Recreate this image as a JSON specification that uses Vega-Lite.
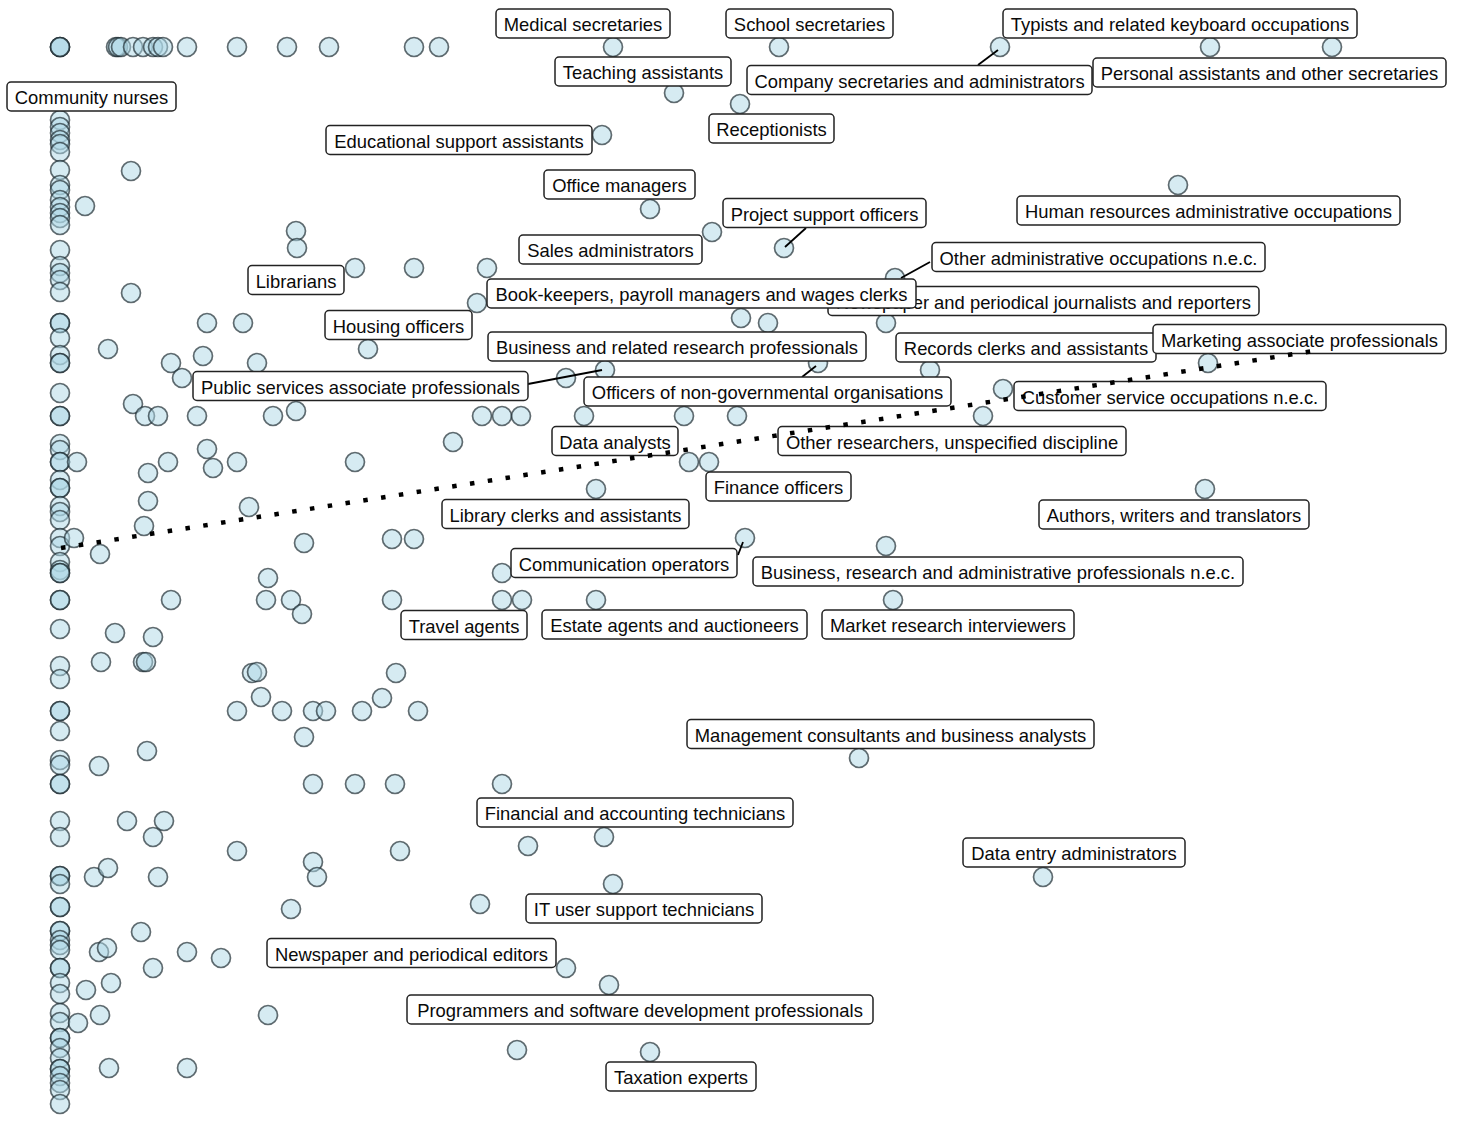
{
  "$schema": "https://vega.github.io/schema/vega-lite/v6.json",
  "width": 1457,
  "height": 1128,
  "autosize": {"type": "none"},
  "padding": 0,
  "background": "white",
  "config": {"view": {"stroke": null}, "axis": {"disable": true}},
  "datasets": {
    "points": [
      {"x":60,"y":47},{"x":60,"y":47},{"x":60,"y":47},
      {"x":116,"y":47},{"x":118,"y":47},{"x":121,"y":47},{"x":133,"y":47},{"x":143,"y":47},{"x":153,"y":47},{"x":158,"y":47},{"x":163,"y":47},
      {"x":187,"y":47},{"x":237,"y":47},{"x":287,"y":47},{"x":329,"y":47},{"x":414,"y":47},{"x":439,"y":47},{"x":613,"y":47},{"x":779,"y":47},{"x":1000,"y":47},{"x":1210,"y":47},{"x":1332,"y":47},
      {"x":674,"y":93},{"x":740,"y":104},{"x":602,"y":135},{"x":131,"y":171},{"x":85,"y":206},{"x":650,"y":209},{"x":712,"y":232},{"x":784,"y":248},{"x":296,"y":231},{"x":297,"y":248},{"x":355,"y":268},{"x":414,"y":268},{"x":487,"y":268},{"x":895,"y":278},{"x":131,"y":293},{"x":477,"y":303},{"x":741,"y":318},{"x":768,"y":323},{"x":886,"y":323},{"x":207,"y":323},{"x":243,"y":323},{"x":108,"y":349},{"x":368,"y":349},{"x":171,"y":363},{"x":203,"y":356},{"x":257,"y":363},{"x":182,"y":378},{"x":605,"y":370},{"x":566,"y":378},{"x":818,"y":363},{"x":930,"y":370},{"x":1178,"y":185},{"x":1208,"y":363},{"x":1003,"y":389},{"x":468,"y":390},
      {"x":60,"y":120},{"x":60,"y":127},{"x":60,"y":133},{"x":60,"y":140},{"x":60,"y":144},{"x":60,"y":152},{"x":60,"y":170},{"x":60,"y":185},{"x":60,"y":190},{"x":60,"y":200},{"x":60,"y":207},{"x":60,"y":213},{"x":60,"y":218},{"x":60,"y":225},{"x":60,"y":250},{"x":60,"y":266},{"x":60,"y":273},{"x":60,"y":280},{"x":60,"y":292},{"x":60,"y":323},{"x":60,"y":323},{"x":60,"y":338},{"x":60,"y":355},{"x":60,"y":363},{"x":60,"y":363},{"x":60,"y":393},{"x":60,"y":416},{"x":60,"y":416},{"x":60,"y":444},{"x":60,"y":450},{"x":60,"y":462},{"x":60,"y":462},{"x":60,"y":480},{"x":60,"y":488},{"x":60,"y":488},{"x":60,"y":506},{"x":60,"y":512},{"x":60,"y":520},{"x":60,"y":538},{"x":60,"y":546},{"x":60,"y":562},{"x":60,"y":570},{"x":60,"y":573},{"x":60,"y":573},{"x":60,"y":600},{"x":60,"y":600},{"x":60,"y":629},{"x":60,"y":666},{"x":60,"y":679},{"x":60,"y":711},{"x":60,"y":711},{"x":60,"y":731},{"x":60,"y":760},{"x":60,"y":765},{"x":60,"y":784},{"x":60,"y":784},{"x":60,"y":821},{"x":60,"y":837},{"x":60,"y":876},{"x":60,"y":876},{"x":60,"y":884},{"x":60,"y":907},{"x":60,"y":907},{"x":60,"y":931},{"x":60,"y":931},{"x":60,"y":940},{"x":60,"y":945},{"x":60,"y":950},{"x":60,"y":968},{"x":60,"y":968},{"x":60,"y":983},{"x":60,"y":994},{"x":60,"y":1013},{"x":60,"y":1022},{"x":60,"y":1038},{"x":60,"y":1038},{"x":60,"y":1048},{"x":60,"y":1058},{"x":60,"y":1069},{"x":60,"y":1069},{"x":60,"y":1076},{"x":60,"y":1083},{"x":60,"y":1090},{"x":60,"y":1104},
      {"x":133,"y":404},{"x":145,"y":416},{"x":158,"y":416},{"x":197,"y":416},{"x":273,"y":416},{"x":296,"y":411},{"x":482,"y":416},{"x":502,"y":416},{"x":521,"y":416},{"x":584,"y":416},{"x":684,"y":416},{"x":737,"y":416},{"x":983,"y":416},
      {"x":453,"y":442},{"x":77,"y":462},{"x":148,"y":473},{"x":168,"y":462},{"x":207,"y":449},{"x":213,"y":468},{"x":237,"y":462},{"x":355,"y":462},
      {"x":148,"y":501},{"x":144,"y":526},{"x":249,"y":507},{"x":74,"y":538},{"x":100,"y":554},{"x":304,"y":543},{"x":392,"y":539},{"x":414,"y":539},
      {"x":268,"y":578},{"x":502,"y":573},{"x":171,"y":600},{"x":266,"y":600},{"x":291,"y":600},{"x":302,"y":614},{"x":392,"y":600},{"x":502,"y":600},{"x":522,"y":600},{"x":596,"y":600},{"x":893,"y":600},
      {"x":115,"y":633},{"x":153,"y":637},{"x":101,"y":662},{"x":143,"y":662},{"x":146,"y":662},{"x":252,"y":673},{"x":257,"y":672},{"x":396,"y":673},{"x":261,"y":697},{"x":382,"y":698},
      {"x":237,"y":711},{"x":282,"y":711},{"x":313,"y":711},{"x":326,"y":711},{"x":362,"y":711},{"x":418,"y":711},{"x":304,"y":737},{"x":147,"y":751},{"x":99,"y":766},
      {"x":313,"y":784},{"x":355,"y":784},{"x":395,"y":784},{"x":502,"y":784},{"x":127,"y":821},{"x":164,"y":821},{"x":153,"y":837},{"x":237,"y":851},{"x":313,"y":862},{"x":317,"y":877},{"x":400,"y":851},
      {"x":94,"y":877},{"x":108,"y":868},{"x":158,"y":877},{"x":291,"y":909},{"x":480,"y":904},{"x":141,"y":932},{"x":99,"y":952},{"x":107,"y":948},{"x":187,"y":952},{"x":221,"y":958},{"x":153,"y":968},
      {"x":86,"y":990},{"x":111,"y":983},{"x":78,"y":1023},{"x":100,"y":1015},{"x":268,"y":1015},{"x":109,"y":1068},{"x":187,"y":1068},
      {"x":689,"y":462},{"x":709,"y":462},{"x":596,"y":489},{"x":745,"y":538},{"x":886,"y":546},{"x":1205,"y":489},{"x":859,"y":758},{"x":528,"y":846},{"x":604,"y":837},{"x":613,"y":884},{"x":566,"y":968},{"x":609,"y":985},{"x":517,"y":1050},{"x":650,"y":1052},{"x":1043,"y":877}
    ],
    "labels": [
      {"name":"Medical secretaries","x1":496,"x2":670,"yc":23.5,"g":1},
      {"name":"School secretaries","x1":726,"x2":893,"yc":23.5,"g":1},
      {"name":"Typists and related keyboard occupations","x1":1003,"x2":1357,"yc":23.5,"g":1},
      {"name":"Teaching assistants","x1":555,"x2":731,"yc":71.5,"g":1},
      {"name":"Company secretaries and administrators","x1":747,"x2":1092,"yc":80,"g":1},
      {"name":"Personal assistants and other secretaries","x1":1093,"x2":1446,"yc":72.5,"g":1},
      {"name":"Community nurses","x1":7,"x2":176,"yc":96.5,"g":1},
      {"name":"Receptionists","x1":709,"x2":834,"yc":128.5,"g":1},
      {"name":"Educational support assistants","x1":326,"x2":592,"yc":140,"g":1},
      {"name":"Office managers","x1":544,"x2":695,"yc":184.5,"g":1},
      {"name":"Project support officers","x1":723,"x2":926,"yc":213,"g":1},
      {"name":"Human resources administrative occupations","x1":1017,"x2":1400,"yc":210.5,"g":1},
      {"name":"Sales administrators","x1":519,"x2":702,"yc":249.5,"g":1},
      {"name":"Librarians","x1":248,"x2":344,"yc":280,"g":1},
      {"name":"Other administrative occupations n.e.c.","x1":932,"x2":1265,"yc":257,"g":1},
      {"name":"Newspaper and periodical journalists and reporters","x1":828,"x2":1259,"yc":301,"g":1},
      {"name":"Book-keepers, payroll managers and wages clerks","x1":487,"x2":916,"yc":293.5,"g":2},
      {"name":"Housing officers","x1":325,"x2":472,"yc":325,"g":1},
      {"name":"Business and related research professionals","x1":488,"x2":866,"yc":346.5,"g":1},
      {"name":"Records clerks and assistants","x1":896,"x2":1156,"yc":347.5,"g":1},
      {"name":"Marketing associate professionals","x1":1153,"x2":1446,"yc":339,"g":2},
      {"name":"Public services associate professionals","x1":193,"x2":528,"yc":386,"g":1},
      {"name":"Officers of non-governmental organisations","x1":584,"x2":951,"yc":391.5,"g":1},
      {"name":"Customer service occupations n.e.c.","x1":1014,"x2":1326,"yc":396,"g":1},
      {"name":"Data analysts","x1":552,"x2":678,"yc":441,"g":1},
      {"name":"Other researchers, unspecified discipline","x1":778,"x2":1126,"yc":441,"g":1},
      {"name":"Finance officers","x1":706,"x2":851,"yc":486.5,"g":1},
      {"name":"Library clerks and assistants","x1":442,"x2":689,"yc":514,"g":1},
      {"name":"Authors, writers and translators","x1":1039,"x2":1309,"yc":514.5,"g":1},
      {"name":"Communication operators","x1":511,"x2":737,"yc":563,"g":1},
      {"name":"Business, research and administrative professionals n.e.c.","x1":753,"x2":1243,"yc":571.5,"g":1},
      {"name":"Travel agents","x1":401,"x2":527,"yc":625,"g":1},
      {"name":"Estate agents and auctioneers","x1":542,"x2":807,"yc":624.5,"g":1},
      {"name":"Market research interviewers","x1":822,"x2":1074,"yc":624.5,"g":1},
      {"name":"Management consultants and business analysts","x1":687,"x2":1094,"yc":734,"g":1},
      {"name":"Financial and accounting technicians","x1":477,"x2":793,"yc":812.5,"g":1},
      {"name":"Data entry administrators","x1":963,"x2":1185,"yc":852.5,"g":1},
      {"name":"IT user support technicians","x1":526,"x2":762,"yc":908.5,"g":1},
      {"name":"Newspaper and periodical editors","x1":267,"x2":556,"yc":953,"g":1},
      {"name":"Programmers and software development professionals","x1":407,"x2":873,"yc":1009.5,"g":1},
      {"name":"Taxation experts","x1":606,"x2":756,"yc":1076.5,"g":1}
    ],
    "segs": [
      {"x":978,"y":65,"x2":998,"y2":50},
      {"x":806,"y":228,"x2":785,"y2":247},
      {"x":930,"y":262,"x2":901,"y2":278},
      {"x":528,"y":384,"x2":602,"y2":370},
      {"x":802,"y":377,"x2":816,"y2":366},
      {"x":738,"y":555,"x2":743,"y2":542}
    ],
    "trend": [
      {"x":61,"y":548,"x2":1320,"y2":350}
    ]
  },
  "encoding": {
    "x": {"field": "x", "type": "quantitative", "scale": {"domain": [0, 1457], "nice": false, "zero": false}, "axis": null},
    "y": {"field": "y", "type": "quantitative", "scale": {"domain": [0, 1128], "nice": false, "zero": false, "reverse": true}, "axis": null}
  },
  "layer": [
    {
      "data": {"name": "points"},
      "mark": {"type": "circle", "size": 360, "fill": "#add8e6", "fillOpacity": 0.5, "stroke": "#1a282d", "strokeOpacity": 0.68, "strokeWidth": 1.7}
    },
    {
      "data": {"name": "segs"},
      "mark": {"type": "rule", "color": "black", "strokeWidth": 1.8},
      "encoding": {"x2": {"field": "x2"}, "y2": {"field": "y2"}}
    },
    {
      "data": {"name": "labels"},
      "transform": [{"filter": "datum.g == 1"}, {"calculate": "datum.yc - 14.5", "as": "ya"}, {"calculate": "datum.yc + 14.5", "as": "yb"}],
      "mark": {"type": "rect", "fill": "white", "stroke": "#222222", "strokeWidth": 1.5, "cornerRadius": 4},
      "encoding": {"x": {"field": "x1", "type": "quantitative"}, "x2": {"field": "x2"}, "y": {"field": "ya", "type": "quantitative"}, "y2": {"field": "yb"}}
    },
    {
      "data": {"name": "labels"},
      "transform": [{"filter": "datum.g == 1"}, {"calculate": "(datum.x1 + datum.x2) / 2", "as": "cx"}],
      "mark": {"type": "text", "font": "Liberation Sans", "fontSize": 18.4, "align": "center", "baseline": "middle", "dy": 1.5, "color": "#0a0a0a"},
      "encoding": {"x": {"field": "cx", "type": "quantitative"}, "y": {"field": "yc", "type": "quantitative"}, "text": {"field": "name"}}
    },
    {
      "data": {"name": "labels"},
      "transform": [{"filter": "datum.g == 2"}, {"calculate": "datum.yc - 14.5", "as": "ya"}, {"calculate": "datum.yc + 14.5", "as": "yb"}],
      "mark": {"type": "rect", "fill": "white", "stroke": "#222222", "strokeWidth": 1.5, "cornerRadius": 4},
      "encoding": {"x": {"field": "x1", "type": "quantitative"}, "x2": {"field": "x2"}, "y": {"field": "ya", "type": "quantitative"}, "y2": {"field": "yb"}}
    },
    {
      "data": {"name": "labels"},
      "transform": [{"filter": "datum.g == 2"}, {"calculate": "(datum.x1 + datum.x2) / 2", "as": "cx"}],
      "mark": {"type": "text", "font": "Liberation Sans", "fontSize": 18.4, "align": "center", "baseline": "middle", "dy": 1.5, "color": "#0a0a0a"},
      "encoding": {"x": {"field": "cx", "type": "quantitative"}, "y": {"field": "yc", "type": "quantitative"}, "text": {"field": "name"}}
    },
    {
      "data": {"name": "trend"},
      "mark": {"type": "rule", "color": "black", "strokeWidth": 4.5, "strokeDash": [4.5, 13.5], "strokeCap": "butt"},
      "encoding": {"x2": {"field": "x2"}, "y2": {"field": "y2"}}
    }
  ]
}
